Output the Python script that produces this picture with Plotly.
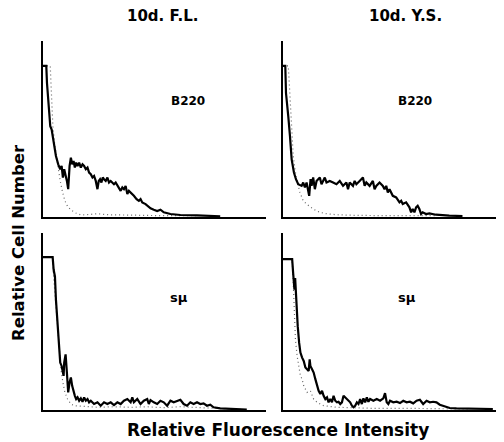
import plotly.graph_objects as go

# page body has an 8px margin, so the figure occupies the visible 496x434 area
OFF = 8
W, H = 504 - OFF, 442 - OFF

# ---- data (channel, relative count) ----
fl_b220_x = [0, 3.3, 4, 5.3, 7.3, 8.7, 10.7, 13, 15.3, 17.3, 18.7, 20, 21.3, 22.7, 24, 25.3, 26.7, 28, 29.3, 30.7, 32, 33.3, 34.7, 36.3, 38, 39.7, 41.3, 43, 44.7, 46.3, 48, 49.7, 51.3, 53, 54.7, 56, 57.3, 58.7, 60, 61.3, 63, 64.7, 66.3, 68, 69.7, 71.3, 73, 74.7, 76.3, 78, 79.7, 81.3, 83, 84.7, 86.3, 88, 89.7, 91.3, 94, 96.3, 98, 99.7, 103, 104.7, 108, 111.3, 114.7, 118, 121.3, 128, 138, 154.7, 168, 178]
fl_b220_y = [152, 152, 134.7, 118, 91.3, 88, 74.7, 61.3, 53, 48, 51.3, 39.7, 48, 43, 36.3, 28, 51.3, 59.7, 53, 56.3, 49.7, 54.7, 51.3, 54.7, 49.7, 53, 51.3, 48, 49.7, 44.7, 43, 39.7, 41.3, 36.3, 28, 36.3, 38, 34.7, 39.7, 38, 36.3, 39.7, 34.7, 36.3, 34.7, 33, 34.7, 31.3, 29.7, 26.3, 29.7, 28, 31.3, 23, 26.3, 24.7, 23, 21.3, 18, 16.3, 18, 14.7, 13, 11.3, 8.7, 7.3, 6, 7.3, 4.7, 3, 2, 1.7, 1.3, 0.7]
fl_b220_ctl_x = [0, 7.3, 8, 9, 10, 12, 14.7, 17.3, 19.7, 22, 24.7, 28, 33, 38, 48, 54.7, 64.7, 74.7, 88, 121.3, 154.7]
fl_b220_ctl_y = [152, 152, 134.7, 108, 89.7, 71.3, 51.3, 36.3, 24.7, 16.3, 10.7, 7, 4, 2, 2.7, 3.3, 2.3, 2, 1.7, 1.3, 1.3]

ys_b220_x = [0, 2.3, 3, 4.3, 5.3, 7, 8.7, 11, 13, 15.3, 18.7, 20.3, 22, 23.7, 25.3, 26.3, 27.7, 28.7, 30.3, 32, 33.7, 37, 38.7, 40.3, 42, 43.7, 47, 50.3, 53.7, 57, 60.3, 63.7, 65.3, 67, 70.3, 72, 73.7, 77, 80.3, 82, 83.7, 87, 90.3, 92, 93.7, 97, 100.3, 102, 103.7, 105.3, 107, 110.3, 113.7, 117, 118.7, 120.3, 123.7, 127, 128.7, 130.3, 132, 133.7, 135.3, 137, 138.7, 140.3, 143.7, 147, 153.7, 167, 180.3]
ys_b220_y = [152, 152, 124.7, 114.7, 101.3, 81.3, 58, 44.7, 38, 33, 31.3, 34.7, 29.7, 34.7, 28, 21.3, 38, 31.3, 39.7, 28, 36.3, 39.7, 33, 36.3, 39.7, 34.7, 36.3, 34.7, 33, 36.3, 31.3, 34.7, 28, 34.7, 31.3, 36.3, 33, 36.3, 39.7, 31.3, 34.7, 31.3, 36.3, 28, 31.3, 34.7, 31.3, 28, 31.3, 24.7, 28, 21.3, 19.7, 14.7, 16.3, 13, 14.7, 9.7, 4.7, 8, 4.7, 9.7, 11.3, 8, 3, 4.7, 3, 3.7, 2.3, 1.3, 1]
ys_b220_ctl_x = [0, 5.3, 6.3, 7.7, 9, 10.3, 12, 13.7, 17, 20.3, 23.7, 27, 30.3, 37, 43.7, 53.7, 70.3, 103.7, 153.7]
ys_b220_ctl_y = [152, 152, 134.7, 108, 88, 61.3, 48, 38, 24.7, 16.3, 13, 10.7, 8, 4.7, 3.3, 2.3, 1.7, 1.3, 1.3]

fl_smu_x = [0, 9.7, 10.7, 12, 13, 14.7, 16.3, 17.3, 18.7, 19.7, 20.7, 21.3, 22.7, 24, 25.3, 26.7, 28, 29.3, 30.7, 32, 33.3, 34.7, 36.3, 38, 39.7, 41.3, 43, 44.7, 46.3, 48, 51.3, 54.7, 58, 61.3, 64.7, 68, 71.3, 74.7, 78, 81.3, 84.7, 88, 89.7, 91.3, 94.7, 98, 101.3, 104.7, 106.3, 108, 111.3, 114.7, 118, 121.3, 124.7, 128, 131.3, 134.7, 138, 141.3, 144.7, 148, 151.3, 154.7, 158, 161.3, 164.7, 168, 171.3, 178, 188, 204.7]
fl_smu_y = [153.7, 153.7, 141, 134.3, 111, 87.7, 71, 47.7, 44.3, 37.7, 34.3, 47.7, 56, 37.7, 17.7, 27.7, 32.7, 24.3, 17.7, 14.3, 11, 12.7, 9.3, 11.7, 8.3, 12.7, 9.3, 11, 7.7, 9.3, 6, 7.7, 4.3, 7.7, 6, 7.7, 5, 7.7, 6, 9.3, 11, 7.7, 12.7, 7.7, 11, 6, 9.3, 11, 6, 10, 7.7, 6, 9.3, 7.7, 4.3, 9.3, 7.7, 9.3, 10.3, 6, 4.3, 7.7, 6, 7.7, 6, 6.7, 4.3, 5.3, 2.7, 1.7, 1, 0.3]
fl_smu_ctl_x = [0, 9.7, 10.3, 12, 14, 16, 18, 20, 22, 24.7, 28, 31.3, 41.3, 54.7, 71.3, 88, 104.7, 121.3, 138, 154.7, 171.3, 188, 204.7]
fl_smu_ctl_y = [153.7, 153.7, 139.3, 117.7, 91, 67.7, 41, 27.7, 17.7, 11, 6, 4.3, 3.3, 2.7, 3.3, 2.7, 3.3, 2.3, 3.3, 2.3, 1.7, 1, 0.3]

ys_smu_x = [0, 9.2, 10.2, 10.8, 11.5, 12.2, 12.8, 13.5, 14.8, 16.2, 17.5, 19.2, 20.8, 22.5, 24.2, 25.8, 26.8, 27.5, 29.2, 30.8, 32.5, 34.2, 35.8, 37.5, 39.2, 40.8, 42.5, 44.2, 45.8, 47.5, 49.2, 50.8, 52.5, 54.2, 55.8, 57.5, 59.2, 60.8, 62.5, 64.2, 65.8, 67.5, 69.2, 70.8, 72.5, 74.2, 75.8, 77.5, 79.2, 80.8, 82.5, 84.2, 85.8, 87.5, 90.8, 94.2, 97.5, 100.8, 102.5, 104.2, 105.8, 107.5, 110.8, 114.2, 117.5, 120.8, 124.2, 127.5, 130.8, 134.2, 137.5, 139.2, 140.8, 144.2, 147.5, 150.8, 154.2, 157.5, 160.8, 164.2, 167.5, 174.2, 187.5, 210.8]
ys_smu_y = [151.7, 151.7, 137.7, 127.7, 121, 132.7, 117.7, 104.3, 84.3, 67.7, 57.7, 52.7, 49.3, 42.7, 41, 39.3, 51, 44.3, 41, 37.7, 31, 24.3, 19.3, 16, 19.3, 14.3, 11, 12.7, 7.7, 11, 7.7, 14.3, 9.3, 7.7, 8.3, 6, 7.7, 14.3, 12.7, 11, 9.3, 7.7, 4.3, 2.7, 4.3, 7.7, 6, 11, 6, 11.7, 7.7, 12.7, 8.3, 11, 9.3, 11, 9.3, 11.7, 17, 7.7, 6, 9.3, 7.7, 8.3, 7, 9.3, 7.7, 8.3, 6.7, 9.3, 10.3, 7.7, 6, 9.3, 7.7, 8.3, 7.7, 5.3, 4.3, 3.3, 2, 1.7, 1.3, 1]
ys_smu_ctl_x = [0, 9.2, 10.2, 10.8, 11.5, 12.5, 14.2, 15.8, 17.5, 19.2, 20.8, 24.2, 27.5, 30.8, 34.2, 40.8, 54.2, 70.8, 87.5, 120.8, 154.2, 187.5]
ys_smu_ctl_y = [151.7, 151.7, 131, 111, 91, 71, 54.3, 42.7, 34.3, 31, 24.3, 17.7, 19.3, 11, 7.7, 4.3, 2.7, 2.3, 1.7, 1.7, 1.3, 1]

col_titles = ["10d. F.L.", "10d. Y.S."]
row_labels = ["B220", "sμ"]

panels = [
    ("x", "y", fl_b220_x, fl_b220_y, fl_b220_ctl_x, fl_b220_ctl_y),
    ("x2", "y2", ys_b220_x, ys_b220_y, ys_b220_ctl_x, ys_b220_ctl_y),
    ("x3", "y3", fl_smu_x, fl_smu_y, fl_smu_ctl_x, fl_smu_ctl_y),
    ("x4", "y4", ys_smu_x, ys_smu_y, ys_smu_ctl_x, ys_smu_ctl_y),
]

fig = go.Figure()
for xa, ya, sx, sy, cx, cy in panels:
    fig.add_trace(go.Scatter(x=cx, y=cy, xaxis=xa, yaxis=ya, mode="lines",
                             line=dict(color="#666666", width=1.2, dash="1px,3px"),
                             showlegend=False, hoverinfo="skip"))
    fig.add_trace(go.Scatter(x=sx, y=sy, xaxis=xa, yaxis=ya, mode="lines",
                             line=dict(color="black", width=2.2),
                             showlegend=False, hoverinfo="skip"))

def px_x(p):
    return (p - OFF) / W

def px_y(p):
    return 1 - (p - OFF) / H

left_dom = [px_x(43), px_x(266)]
right_dom = [px_x(283), px_x(503)]
top_dom = [px_y(217), px_y(41)]
bot_dom = [px_y(410), px_y(233)]

ax_common = dict(showgrid=False, zeroline=False, showticklabels=False, ticks="",
                 showline=True, linecolor="black", linewidth=2, mirror=False, fixedrange=True)

fig.update_layout(
    width=W, height=H,
    margin=dict(l=0, r=0, t=0, b=0),
    paper_bgcolor="white", plot_bgcolor="white",
    xaxis=dict(domain=left_dom, range=[0, 224], anchor="y", **ax_common),
    yaxis=dict(domain=top_dom, range=[0, 177], anchor="x", **ax_common),
    xaxis2=dict(domain=right_dom, range=[0, 221], anchor="y2", **ax_common),
    yaxis2=dict(domain=top_dom, range=[0, 177], anchor="x2", **ax_common),
    xaxis3=dict(domain=left_dom, range=[0, 224], anchor="y3", **ax_common),
    yaxis3=dict(domain=bot_dom, range=[0, 178], anchor="x3", **ax_common),
    xaxis4=dict(domain=right_dom, range=[0, 221], anchor="y4", **ax_common),
    yaxis4=dict(domain=bot_dom, range=[0, 178], anchor="x4", **ax_common),
)

font_b = dict(family="DejaVu Sans, Verdana, sans-serif", color="black")
ann = []
ann.append(dict(x=px_x(163), y=px_y(16), text="<b>" + col_titles[0] + "</b>", font=dict(size=15, **font_b)))
ann.append(dict(x=px_x(405), y=px_y(16), text="<b>" + col_titles[1] + "</b>", font=dict(size=15, **font_b)))
ann.append(dict(x=px_x(188), y=px_y(101), text="<b>" + row_labels[0] + "</b>", font=dict(size=12, **font_b)))
ann.append(dict(x=px_x(415), y=px_y(101), text="<b>" + row_labels[0] + "</b>", font=dict(size=12, **font_b)))
ann.append(dict(x=px_x(179), y=px_y(297), text="<b>" + row_labels[1] + "</b>", font=dict(size=13, **font_b)))
ann.append(dict(x=px_x(407), y=px_y(297), text="<b>" + row_labels[1] + "</b>", font=dict(size=13, **font_b)))
ann.append(dict(x=px_x(278), y=px_y(430), text="<b>Relative Fluorescence Intensity</b>", font=dict(size=17, **font_b)))
ann.append(dict(x=px_x(18), y=px_y(243), text="<b>Relative Cell Number</b>", textangle=-90, font=dict(size=16.5, **font_b)))
for a in ann:
    a.update(xref="paper", yref="paper", showarrow=False, xanchor="center", yanchor="middle")
fig.update_layout(annotations=ann)

fig.write_html("out.html")
